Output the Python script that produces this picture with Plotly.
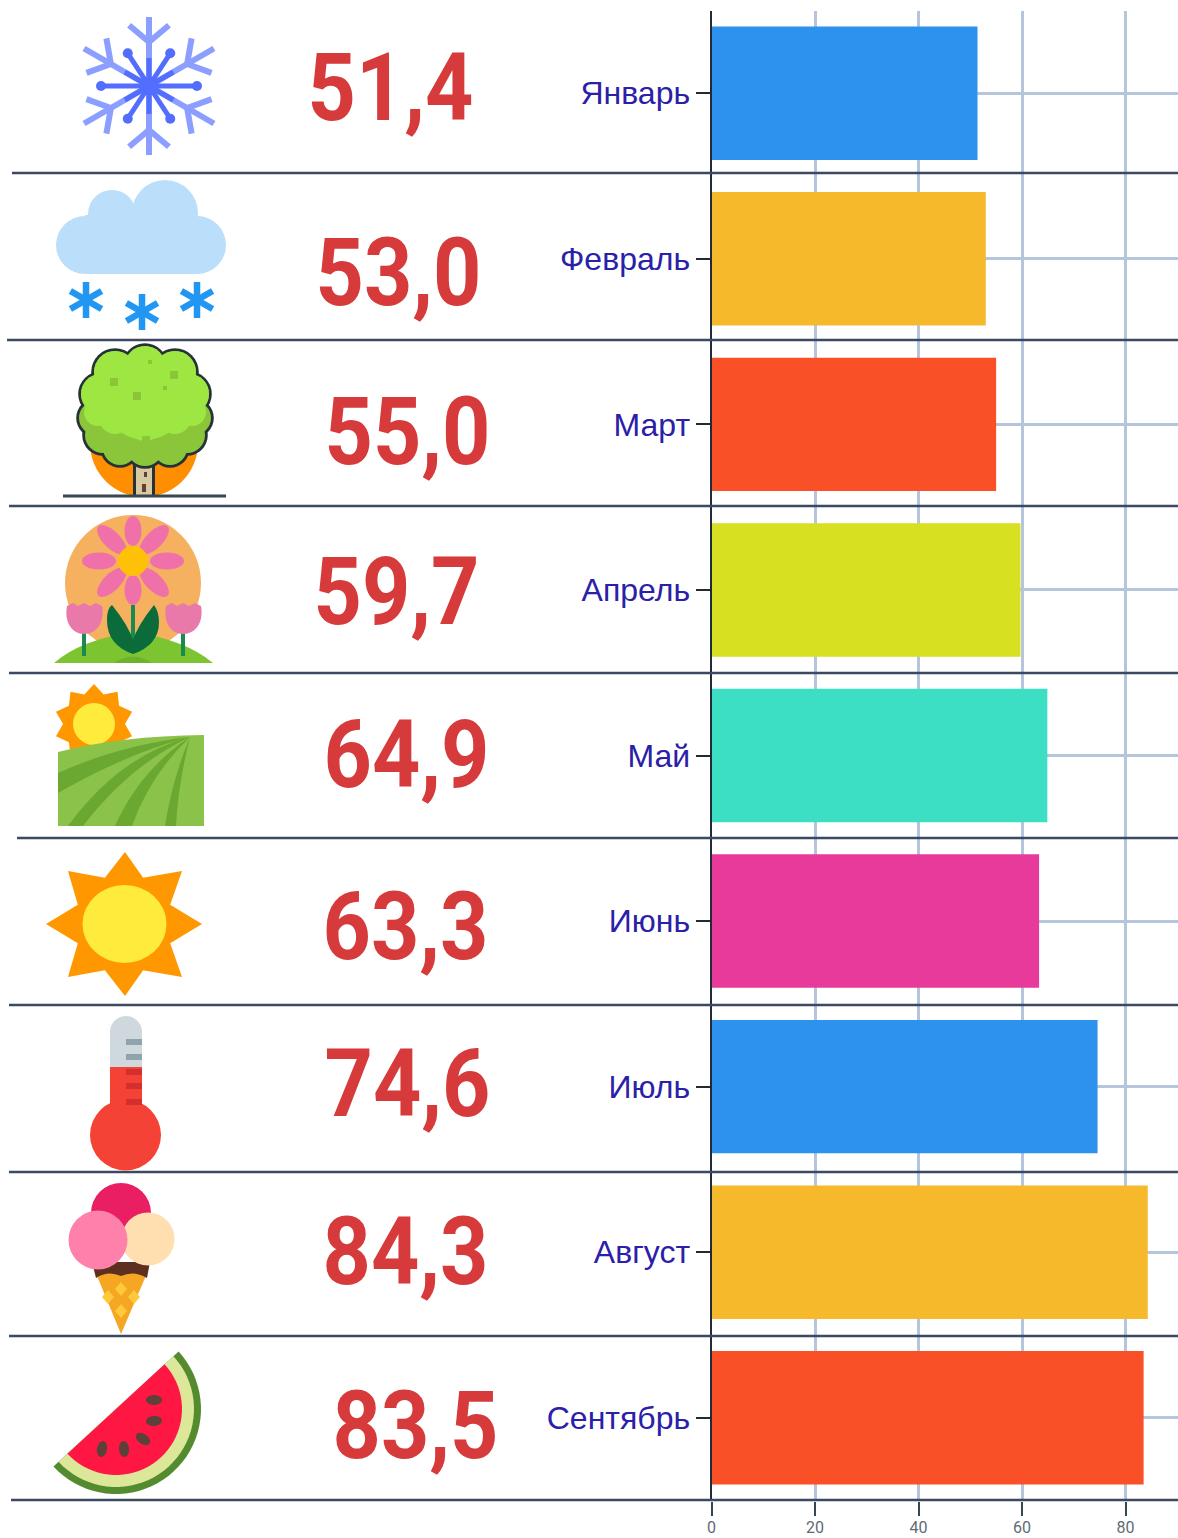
import math
import re
import plotly.graph_objects as go

# ---------- data ----------
months = ["Январь", "Февраль", "Март", "Апрель", "Май", "Июнь", "Июль", "Август", "Сентябрь"]
values = [51.4, 53.0, 55.0, 59.7, 64.9, 63.3, 74.6, 84.3, 83.5]
bar_colors = ["#2d92ed", "#f6b92b", "#fa5028", "#d7e021", "#3cdfc4", "#e83a9b", "#2d92ed", "#f6b92b", "#fa5028"]
x_ticks = [0, 20, 40, 60, 80]

# ---------- layout in page pixels ----------
W, H = 1178, 1538
label_x = [390, 398, 407, 396, 406, 405, 407, 405, 415]
label_y = [88, 273, 432, 592, 755, 927, 1084, 1252, 1426]
sep_y = [173, 340, 506, 673, 838, 1005, 1172, 1336, 1500]
sep_x = [12, 7, 9, 9, 17, 9, 9, 9, 11]
LABEL_WIDTH = 166

shapes = []


def px(x):
    return x / W


def py(y):
    return 1 - y / H


def path(d, color, line=None, lw=0):
    tokens = re.findall(r"[MLQCZ]|-?\d+\.?\d*", d)
    out, is_x = [], True
    for t in tokens:
        if t in "MLQCZ":
            out.append(t)
            is_x = True
        else:
            out.append(f"{px(float(t)):.5f}" if is_x else f"{py(float(t)):.5f}")
            is_x = not is_x
    shapes.append(dict(type="path", xref="paper", yref="paper", path=" ".join(out),
                       fillcolor=color, line=dict(width=lw, color=line or color)))


def poly(points, color):
    path("M" + " L".join(f"{x:.2f} {y:.2f}" for x, y in points) + " Z", color)


def circle(cx, cy, rx, color, ry=None):
    ry = rx if ry is None else ry
    shapes.append(dict(type="circle", xref="paper", yref="paper",
                       x0=px(cx - rx), x1=px(cx + rx), y0=py(cy + ry), y1=py(cy - ry),
                       fillcolor=color, line=dict(width=0)))


def rect(x0, y0, x1, y1, color):
    poly([(x0, y0), (x1, y0), (x1, y1), (x0, y1)], color)


def seg(x0, y0, x1, y1, color, w):
    shapes.append(dict(type="line", xref="paper", yref="paper",
                       x0=px(x0), x1=px(x1), y0=py(y0), y1=py(y1),
                       line=dict(color=color, width=w)))


def ellipse(cx, cy, a, b, deg, color):
    t = math.radians(deg)
    pts = []
    for i in range(28):
        u = 2 * math.pi * i / 28
        ex, ey = a * math.cos(u), b * math.sin(u)
        pts.append((cx + ex * math.cos(t) - ey * math.sin(t), cy + ex * math.sin(t) + ey * math.cos(t)))
    poly(pts, color)


# --- separators
for y, x in zip(sep_y, sep_x):
    seg(x, y, W, y, "#3b4a60", 2.6)

# --- snowflake
cx, cy = 149, 86
LIGHT, DARK = "#8c9eff", "#536dfe"
for deg in [90, 30, -30, -90, 210, 150]:
    t = math.radians(deg)
    ux, uy = math.cos(t), -math.sin(t)
    r = 69 if abs(deg) == 90 else 75
    seg(cx, cy, cx + ux * r, cy + uy * r, LIGHT, 6)
    bx, by = cx + ux * 44, cy + uy * 44
    for d in (-50, 50):
        a = t + math.radians(d)
        seg(bx, by, bx + math.cos(a) * 26, by - math.sin(a) * 26, LIGHT, 6)
    seg(cx, cy, cx + ux * 28, cy + uy * 28, DARK, 5)
for deg in [0, 57, 123, 180, 237, 303]:
    t = math.radians(deg)
    r = 48 if deg in (0, 180) else 39
    ex, ey = cx + math.cos(t) * r, cy - math.sin(t) * r
    seg(cx, cy, ex, ey, DARK, 5)
    circle(ex, ey, 5, DARK)
circle(cx, cy, 9, DARK)

# --- cloud with snow
CL = "#bbdefb"
for c in [(165, 213, 33), (112, 214, 24), (85, 245, 29), (197, 245, 29)]:
    circle(*c, CL)
rect(85, 215, 197, 274, CL)
for ax, ay in [(86, 300), (142, 312), (197, 300)]:
    for deg in (90, 30, 150):
        t = math.radians(deg)
        seg(ax - math.cos(t) * 18, ay + math.sin(t) * 18, ax + math.cos(t) * 18, ay - math.sin(t) * 18, "#2196f3", 6.5)

# --- tree
circle(144, 443, 54, "#ff8f00")
rect(133, 462, 155, 497, "#263238")
rect(136, 462, 152, 497, "#d9c9a3")
rect(144, 472, 147, 477, "#5d4037")
rect(142, 484, 146, 492, "#5d4037")
seg(63, 496, 226, 496, "#37474f", 3)
crown = [(145, 410, 50), (145, 366, 20), (115, 372, 21), (175, 372, 21), (101, 394, 20), (189, 394, 20),
         (96, 418, 17), (194, 418, 17), (103, 435, 18), (187, 435, 18), (120, 448, 17), (170, 448, 17), (145, 448, 18)]
for a, b, r in crown:
    circle(a, b, r + 2.8, "#263238")
for a, b, r in crown:
    circle(a, b, r, "#8bc53a")
for a, b, r in [(145, 398, 42), (145, 366, 20), (115, 372, 21), (175, 372, 21), (101, 394, 20), (189, 394, 20),
                (98, 412, 14), (192, 412, 14), (115, 418, 16), (175, 418, 16), (145, 424, 17)]:
    circle(a, b, r, "#9ee642")
for a, b, s in [(114, 382, 4), (174, 375, 4), (137, 396, 4), (146, 440, 4), (118, 440, 2), (174, 440, 2), (165, 388, 2), (150, 362, 2)]:
    rect(a - s, b - s, a + s, b + s, "#8bc53a")

# --- flowers
circle(133, 583, 68, "#f5b060")
path("M54 663 Q80 640 133 632 Q186 640 213 663 Z", "#7cc531")
path("M114 663 Q133 650 152 663 Z", "#6fb12c")
for deg, r, a in [(0, 34, 17), (45, 30, 19), (90, 29, 15), (135, 30, 19), (180, 34, 17), (225, 30, 19), (270, 30, 15), (315, 30, 19)]:
    t = math.radians(deg)
    ellipse(133 + math.cos(t) * r, 561 + math.sin(t) * r, a, 8.5, deg, "#f070aa")
circle(133, 561, 15, "#ffc107")
rect(131, 605, 135, 640, "#1b8a4f")
path("M133 654 Q107 645 107 620 Q107 608 112 605 Q128 625 133 640 Q138 625 154 605 Q159 612 159 622 Q159 645 133 654 Z", "#0b6b3a")
for tx, stem in [(67, 84), (166, 183)]:
    rect(stem - 2, 630, stem + 2, 656, "#1b8a4f")
    path(f"M{tx} 606 L{tx+6} 603 L{tx+11} 606 L{tx+17} 603 L{tx+23} 606 L{tx+29} 603 L{tx+35} 606 "
         f"C{tx+38} 622 {tx+30} 634 {tx+17} 634 C{tx+5} 634 {tx-3} 622 {tx} 606 Z", "#e879a8")

# --- field
star = []
for i in range(20):
    r = 40 if i % 2 == 0 else 31
    t = math.radians(90 + 18 * i)
    star.append((94 + r * math.cos(t), 724 - r * math.sin(t)))
poly(star, "#ff9800")
circle(94, 724, 21, "#ffeb3b")
path("M58 752 Q120 736 204 735 L204 826 L58 826 Z", "#8bc34a")
path("M190 737 Q120 745 58 773 L58 793 Q130 752 190 737 Z", "#6aa832")
path("M190 737 Q120 755 68 826 L83 826 Q130 765 190 737 Z", "#6aa832")
path("M190 737 Q140 770 115 826 L132 826 Q150 775 190 737 Z", "#6aa832")
path("M190 737 Q172 780 165 826 L176 826 Q178 785 190 737 Z", "#6aa832")

# --- sun
outer = [(125, 852), (182, 871), (202, 924), (182, 977), (125, 996), (68, 977), (46, 924), (68, 871)]
sun = []
for i, p in enumerate(outer):
    sun.append(p)
    t = math.radians(90 - 22.5 - 45 * i)
    sun.append((124 + 50 * math.cos(t), 924 - 50 * math.sin(t)))
poly(sun, "#ff9800")
circle(124.5, 924, 42, "#ffeb3b", ry=39)

# --- thermometer
circle(126, 1032, 16, "#cfd8dc")
rect(110, 1032, 142, 1067, "#cfd8dc")
rect(110, 1067, 142, 1112, "#f44336")
circle(125.5, 1135, 35.5, "#f44336")
for y in (1042, 1057):
    rect(126, y - 3, 142, y + 3, "#90a4ae")
for y in (1072, 1086, 1102):
    rect(126, y - 3, 142, y + 3, "#d32f2f")

# --- ice cream
circle(121, 1213, 30, "#e91e63")
poly([(95, 1271), (148, 1271), (121, 1334)], "#f5a623")
for a, b in [(121, 1289), (108, 1297), (134, 1297), (121, 1311)]:
    poly([(a, b - 7), (a + 6, b), (a, b + 7), (a - 6, b)], "#ffc93c")
path("M92 1262 L150 1262 L147 1278 Q134 1270 121 1276 Q108 1270 96 1278 Z", "#5d2f1f")
circle(148, 1239, 26.5, "#ffdeb0")
circle(98, 1240, 29.5, "#ff80ab")

# --- watermelon
mx, my = 116, 1409
base = math.atan2(-57, 62)


def half_disc(R):
    pts = []
    for i in range(41):
        a = base + math.pi * i / 40
        pts.append((mx + R * math.cos(a), my + R * math.sin(a)))
    return pts


poly(half_disc(85), "#558b2f")
poly(half_disc(78), "#dce79a")
poly(half_disc(66), "#ff1744")
for a, b, deg in [(154, 1400, 0), (154, 1421, -5), (143, 1439, 35), (124, 1449, 85), (102, 1449, 100)]:
    ellipse(a, b, 8, 5, deg, "#5d4037")

# ---------- figure ----------
fig = go.Figure(go.Bar(y=months, x=values, orientation="h", marker=dict(color=bar_colors, line=dict(width=0)),
                       hoverinfo="skip"))
annotations = [
    dict(xref="paper", yref="paper", x=px(x), y=py(y), text=f"{v:.1f}".replace(".", ","), showarrow=False,
         xanchor="center", yanchor="middle",
         font=dict(family="Roboto, sans-serif", size=94, color="#d63a3a", weight="bold"))
    for v, x, y in zip(values, label_x, label_y)
]
fig.update_layout(
    width=W, height=H, margin=dict(l=0, r=0, t=0, b=0, autoexpand=False), paper_bgcolor="white", plot_bgcolor="white",
    bargap=0.194, showlegend=False, shapes=shapes, annotations=annotations,
    xaxis=dict(domain=[711.5 / W, 1], range=[0, (W - 711.5) / 5.175], tickvals=x_ticks, showgrid=True, automargin=False,
               gridcolor="#b5c6dc", gridwidth=3, zeroline=False, showline=False, ticks="outside", ticklen=14,
               tickwidth=1.5, tickcolor="#37474f", ticklabelstandoff=-2,
               tickfont=dict(family="Roboto, sans-serif", size=16, color="#5f6b73")),
    yaxis=dict(domain=[1 - 1500.5 / H, 1 - 10.5 / H], autorange="reversed", showgrid=True, gridcolor="#b5c6dc", automargin=False,
               gridwidth=2.5, showline=True, linecolor="#222b33", linewidth=2, ticks="outside", ticklen=14,
               tickwidth=2, tickcolor="#222b33", ticklabelstandoff=-1,
               tickfont=dict(family="Liberation Sans, Arial, sans-serif", size=32, color="#2b20a8")),
)
post = ("document.body.style.margin='0';document.body.style.overflow='hidden';"
        "document.querySelectorAll('.annotation-text').forEach(function(t){"
        f"t.setAttribute('textLength','{LABEL_WIDTH}');t.setAttribute('lengthAdjust','spacingAndGlyphs');}});")
fig.write_html("out.html", config=dict(displayModeBar=False), post_script=post)
